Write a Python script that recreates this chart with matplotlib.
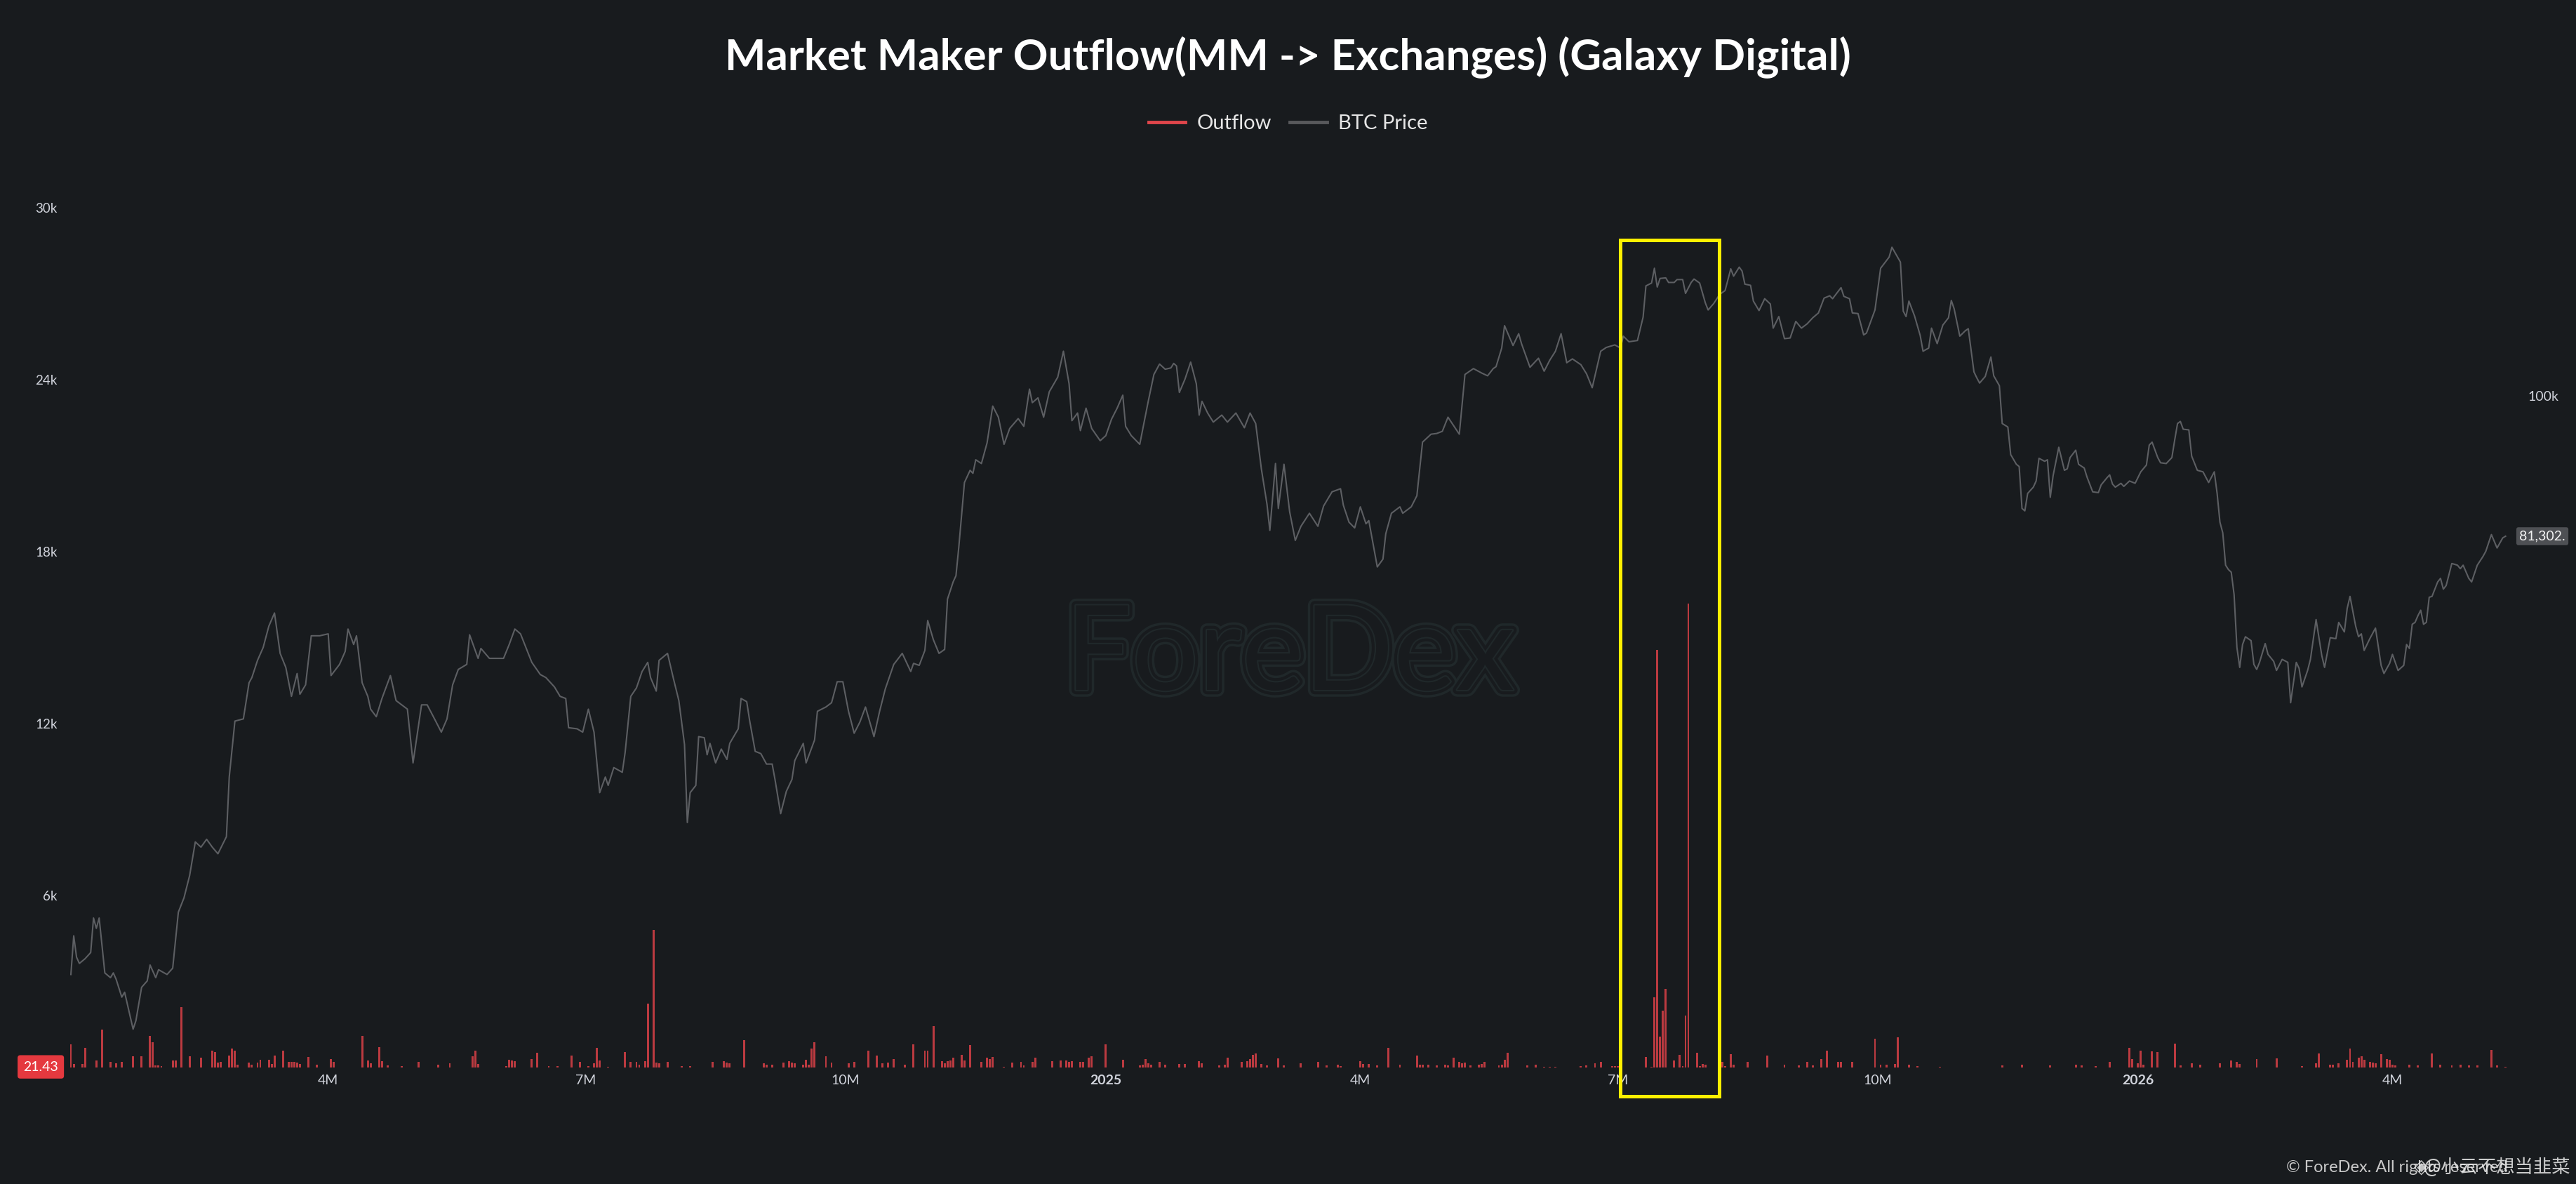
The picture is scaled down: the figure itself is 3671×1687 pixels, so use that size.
import matplotlib
matplotlib.use("Agg")
import matplotlib.pyplot as plt
import matplotlib.dates as mdates
import matplotlib.patheffects as pe
from matplotlib.lines import Line2D
from matplotlib.patches import Rectangle
from matplotlib.ticker import FixedLocator, FixedFormatter, NullLocator
import numpy as np
import pandas as pd

# ---- data ----
title = "Market Maker Outflow(MM -> Exchanges) (Galaxy Digital)"

price_dates = [
    "2024-01-01", "2024-01-02", "2024-01-03", "2024-01-04", "2024-01-06", "2024-01-08", "2024-01-09",
    "2024-01-10", "2024-01-11", "2024-01-13", "2024-01-15", "2024-01-16", "2024-01-17", "2024-01-19",
    "2024-01-20", "2024-01-23", "2024-01-24", "2024-01-26", "2024-01-28", "2024-01-29", "2024-01-31",
    "2024-02-01", "2024-02-04", "2024-02-06", "2024-02-08", "2024-02-10", "2024-02-12", "2024-02-14",
    "2024-02-16", "2024-02-18", "2024-02-20", "2024-02-22", "2024-02-25", "2024-02-26", "2024-02-28",
    "2024-03-02", "2024-03-04", "2024-03-05", "2024-03-07", "2024-03-09", "2024-03-11", "2024-03-13",
    "2024-03-15", "2024-03-17", "2024-03-19", "2024-03-21", "2024-03-22", "2024-03-24", "2024-03-26",
    "2024-03-29", "2024-04-01", "2024-04-02", "2024-04-05", "2024-04-07", "2024-04-08", "2024-04-10",
    "2024-04-11", "2024-04-13", "2024-04-15", "2024-04-16", "2024-04-18", "2024-04-20", "2024-04-23",
    "2024-04-25", "2024-04-29", "2024-05-01", "2024-05-04", "2024-05-06", "2024-05-09", "2024-05-11",
    "2024-05-13", "2024-05-15", "2024-05-17", "2024-05-20", "2024-05-21", "2024-05-24", "2024-05-25",
    "2024-05-28", "2024-06-02", "2024-06-04", "2024-06-06", "2024-06-08", "2024-06-12", "2024-06-15",
    "2024-06-17", "2024-06-20", "2024-06-22", "2024-06-24", "2024-06-25", "2024-06-28", "2024-06-30",
    "2024-07-02", "2024-07-04", "2024-07-06", "2024-07-08", "2024-07-09", "2024-07-11", "2024-07-14",
    "2024-07-15", "2024-07-17", "2024-07-19", "2024-07-21", "2024-07-23", "2024-07-24", "2024-07-26",
    "2024-07-27", "2024-07-30", "2024-08-01", "2024-08-03", "2024-08-05", "2024-08-06", "2024-08-07",
    "2024-08-09", "2024-08-10", "2024-08-12", "2024-08-13", "2024-08-14", "2024-08-16", "2024-08-18",
    "2024-08-20", "2024-08-21", "2024-08-24", "2024-08-25", "2024-08-27", "2024-08-28", "2024-08-30",
    "2024-09-01", "2024-09-03", "2024-09-05", "2024-09-06", "2024-09-08", "2024-09-10", "2024-09-12",
    "2024-09-13", "2024-09-16", "2024-09-17", "2024-09-20", "2024-09-21", "2024-09-24", "2024-09-26",
    "2024-09-28", "2024-09-30", "2024-10-02", "2024-10-04", "2024-10-06", "2024-10-08", "2024-10-11",
    "2024-10-13", "2024-10-15", "2024-10-18", "2024-10-21", "2024-10-24", "2024-10-25", "2024-10-27",
    "2024-10-29", "2024-10-30", "2024-11-01", "2024-11-03", "2024-11-05", "2024-11-06", "2024-11-08",
    "2024-11-09", "2024-11-10", "2024-11-12", "2024-11-14", "2024-11-15", "2024-11-16", "2024-11-18",
    "2024-11-20", "2024-11-22", "2024-11-24", "2024-11-26", "2024-11-28", "2024-12-01", "2024-12-03",
    "2024-12-05", "2024-12-06", "2024-12-08", "2024-12-10", "2024-12-12", "2024-12-15", "2024-12-17",
    "2024-12-19", "2024-12-20", "2024-12-22", "2024-12-23", "2024-12-25", "2024-12-27", "2024-12-30",
    "2025-01-01", "2025-01-03", "2025-01-05", "2025-01-07", "2025-01-08", "2025-01-10", "2025-01-13",
    "2025-01-16", "2025-01-18", "2025-01-20", "2025-01-22", "2025-01-24", "2025-01-25", "2025-01-26",
    "2025-01-27", "2025-01-29", "2025-01-31", "2025-02-02", "2025-02-03", "2025-02-04", "2025-02-06",
    "2025-02-08", "2025-02-11", "2025-02-13", "2025-02-16", "2025-02-19", "2025-02-21", "2025-02-23",
    "2025-02-25", "2025-02-27", "2025-02-28", "2025-03-02", "2025-03-03", "2025-03-05", "2025-03-07",
    "2025-03-09", "2025-03-11", "2025-03-14", "2025-03-17", "2025-03-19", "2025-03-22", "2025-03-25",
    "2025-03-26", "2025-03-28", "2025-03-30", "2025-04-01", "2025-04-03", "2025-04-04", "2025-04-07",
    "2025-04-09", "2025-04-10", "2025-04-12", "2025-04-15", "2025-04-16", "2025-04-19", "2025-04-21",
    "2025-04-23", "2025-04-26", "2025-04-28", "2025-04-30", "2025-05-02", "2025-05-06", "2025-05-08",
    "2025-05-11", "2025-05-14", "2025-05-16", "2025-05-18", "2025-05-19", "2025-05-21", "2025-05-22",
    "2025-05-25", "2025-05-27", "2025-05-28", "2025-05-31", "2025-06-03", "2025-06-05", "2025-06-07",
    "2025-06-09", "2025-06-11", "2025-06-13", "2025-06-15", "2025-06-18", "2025-06-20", "2025-06-22",
    "2025-06-25", "2025-06-27", "2025-06-30", "2025-07-02", "2025-07-03", "2025-07-05", "2025-07-08",
    "2025-07-10", "2025-07-11", "2025-07-13", "2025-07-14", "2025-07-15", "2025-07-16", "2025-07-18",
    "2025-07-19", "2025-07-21", "2025-07-22", "2025-07-24", "2025-07-25", "2025-07-27", "2025-07-28",
    "2025-07-30", "2025-08-01", "2025-08-02", "2025-08-04", "2025-08-06", "2025-08-08", "2025-08-10",
    "2025-08-11", "2025-08-13", "2025-08-14", "2025-08-15", "2025-08-17", "2025-08-18", "2025-08-20",
    "2025-08-22", "2025-08-24", "2025-08-25", "2025-08-27", "2025-08-29", "2025-08-31", "2025-09-02",
    "2025-09-04", "2025-09-06", "2025-09-08", "2025-09-10", "2025-09-12", "2025-09-14", "2025-09-15",
    "2025-09-18", "2025-09-19", "2025-09-21", "2025-09-22", "2025-09-24", "2025-09-26", "2025-09-27",
    "2025-09-30", "2025-10-02", "2025-10-05", "2025-10-06", "2025-10-08", "2025-10-09", "2025-10-10",
    "2025-10-11", "2025-10-12", "2025-10-14", "2025-10-16", "2025-10-17", "2025-10-19", "2025-10-20",
    "2025-10-22", "2025-10-24", "2025-10-26", "2025-10-27", "2025-10-28", "2025-10-30", "2025-11-01",
    "2025-11-02", "2025-11-04", "2025-11-05", "2025-11-06", "2025-11-08", "2025-11-10", "2025-11-11",
    "2025-11-13", "2025-11-14", "2025-11-16", "2025-11-17", "2025-11-19", "2025-11-20", "2025-11-21",
    "2025-11-22", "2025-11-23", "2025-11-25", "2025-11-26", "2025-11-27", "2025-11-29", "2025-11-30",
    "2025-12-01", "2025-12-02", "2025-12-04", "2025-12-06", "2025-12-07", "2025-12-08", "2025-12-10",
    "2025-12-11", "2025-12-13", "2025-12-14", "2025-12-16", "2025-12-18", "2025-12-19", "2025-12-21",
    "2025-12-22", "2025-12-23", "2025-12-24", "2025-12-26", "2025-12-27", "2025-12-29", "2025-12-31",
    "2026-01-02", "2026-01-04", "2026-01-05", "2026-01-06", "2026-01-08", "2026-01-09", "2026-01-11",
    "2026-01-13", "2026-01-14", "2026-01-15", "2026-01-16", "2026-01-17", "2026-01-19", "2026-01-20",
    "2026-01-22", "2026-01-24", "2026-01-26", "2026-01-28", "2026-01-29", "2026-01-30", "2026-01-31",
    "2026-02-01", "2026-02-02", "2026-02-03", "2026-02-04", "2026-02-05", "2026-02-06", "2026-02-07",
    "2026-02-08", "2026-02-10", "2026-02-11", "2026-02-12", "2026-02-13", "2026-02-15", "2026-02-16",
    "2026-02-18", "2026-02-19", "2026-02-21", "2026-02-23", "2026-02-24", "2026-02-26", "2026-02-27",
    "2026-02-28", "2026-03-02", "2026-03-03", "2026-03-05", "2026-03-07", "2026-03-08", "2026-03-10",
    "2026-03-12", "2026-03-13", "2026-03-15", "2026-03-16", "2026-03-17", "2026-03-19", "2026-03-20",
    "2026-03-21", "2026-03-22", "2026-03-24", "2026-03-26", "2026-03-28", "2026-03-29", "2026-03-31",
    "2026-04-01", "2026-04-03", "2026-04-05", "2026-04-06", "2026-04-07", "2026-04-08", "2026-04-09",
    "2026-04-10", "2026-04-11", "2026-04-12", "2026-04-13", "2026-04-14", "2026-04-15", "2026-04-17",
    "2026-04-18", "2026-04-19", "2026-04-20", "2026-04-22", "2026-04-24", "2026-04-25", "2026-04-26",
    "2026-04-28", "2026-04-29", "2026-05-01", "2026-05-03", "2026-05-04", "2026-05-06", "2026-05-08",
    "2026-05-10", "2026-05-11",
]
# BTC price in thousands of USD
price_k = [
    42.6, 45.1, 43.7, 43.3, 43.6, 44.0, 46.3,
    45.6, 46.3, 42.7, 42.4, 42.7, 42.3, 41.2,
    41.5, 39.3, 39.8, 41.8, 42.2, 43.2, 42.4,
    42.9, 42.6, 43.0, 46.7, 47.7, 49.3, 51.8,
    51.4, 52.0, 51.4, 50.9, 52.2, 57.0, 61.9,
    62.1, 65.5, 66.0, 67.7, 69.0, 71.2, 72.6,
    68.4, 67.0, 64.2, 66.4, 64.4, 65.3, 70.2,
    70.2, 70.4, 66.2, 67.3, 68.6, 70.9, 69.3,
    70.2, 65.5, 64.2, 63.0, 62.3, 64.0, 66.2,
    63.8, 63.0, 58.2, 63.4, 63.4, 61.9, 60.9,
    62.1, 65.3, 66.8, 67.3, 70.3, 67.9, 68.9,
    67.9, 67.9, 69.3, 70.9, 70.4, 67.5, 66.3,
    66.0, 65.1, 64.2, 64.0, 61.3, 61.2, 60.9,
    63.0, 60.9, 55.7, 57.0, 56.3, 57.8, 57.4,
    59.1, 64.2, 65.0, 66.6, 67.5, 66.0, 64.7,
    67.7, 68.4, 66.0, 63.8, 59.8, 53.3, 55.7,
    56.3, 60.5, 60.4, 58.9, 59.9, 58.2, 59.4,
    58.5, 59.9, 61.2, 64.0, 63.7, 62.0, 59.2,
    59.0, 58.1, 58.1, 56.8, 54.0, 55.8, 56.8,
    58.4, 59.9, 58.2, 60.2, 62.8, 63.2, 63.6,
    65.6, 65.6, 62.8, 60.8, 61.8, 63.2, 60.5,
    62.8, 64.9, 67.3, 68.4, 66.6, 67.4, 67.2,
    68.7, 71.8, 69.8, 68.4, 68.8, 74.1, 76.0,
    76.7, 80.0, 88.0, 89.6, 89.2, 91.0, 90.5,
    93.3, 98.5, 96.9, 93.1, 95.3, 96.7, 95.6,
    101.0, 99.0, 99.7, 96.9, 100.6, 102.8, 106.8,
    101.8, 96.4, 97.5, 95.0, 98.2, 95.3, 93.6,
    94.3, 96.6, 98.2, 100.1, 95.6, 94.3, 93.1,
    99.2, 103.2, 104.8, 104.0, 104.2, 104.9, 104.5,
    100.5, 102.5, 105.1, 101.8, 97.2, 99.2, 97.5,
    96.2, 97.2, 96.2, 97.5, 95.4, 97.5, 96.0,
    89.8, 85.2, 82.0, 90.5, 84.7, 90.4, 84.3,
    80.8, 82.5, 84.1, 82.5, 85.0, 86.8, 87.2,
    85.1, 83.0, 82.3, 84.9, 82.8, 83.2, 77.7,
    78.6, 81.6, 84.1, 84.9, 84.1, 84.9, 86.3,
    93.4, 94.5, 94.6, 94.9, 96.9, 94.5, 103.2,
    104.1, 103.4, 103.0, 104.1, 104.4, 107.3, 110.9,
    107.7, 109.6, 108.0, 104.3, 105.7, 103.7, 105.4,
    106.8, 109.6, 105.0, 105.6, 104.7, 103.3, 101.2,
    106.8, 107.4, 107.8, 107.3, 109.2, 108.3, 108.5,
    112.3, 117.6, 118.1, 120.7, 117.4, 118.9, 119.0,
    118.2, 118.2, 118.7, 118.7, 116.3, 118.2, 118.8,
    118.1, 114.7, 113.5, 114.6, 116.1, 116.8, 120.6,
    119.3, 120.9, 120.2, 117.9, 117.7, 115.0, 113.4,
    115.4, 114.5, 110.5, 112.4, 108.8, 108.9, 111.6,
    110.5, 111.2, 112.2, 113.0, 115.5, 115.9, 115.4,
    117.3, 115.8, 115.4, 113.0, 112.9, 109.4, 109.7,
    113.5, 120.7, 122.7, 124.5, 122.7, 121.8, 113.3,
    112.4, 115.0, 112.5, 109.3, 106.8, 107.3, 110.5,
    108.0, 111.0, 112.2, 115.1, 113.7, 109.2, 110.1,
    110.4, 103.6, 102.7, 101.9, 102.9, 105.9, 103.0,
    101.5, 96.0, 95.5, 91.7, 90.4, 90.1, 84.7,
    84.4, 86.6, 87.4, 88.2, 91.2, 90.8, 91.0,
    86.1, 88.9, 92.7, 89.6, 89.8, 91.3, 92.3,
    90.4, 89.9, 88.7, 86.8, 86.7, 87.7, 88.6,
    89.0, 87.8, 87.4, 87.9, 87.5, 88.2, 87.9,
    89.4, 90.3, 93.0, 93.4, 91.3, 90.6, 90.5,
    91.3, 93.7, 96.0, 96.3, 95.2, 95.1, 91.5,
    89.6, 89.4, 88.0, 89.4, 86.6, 83.0, 81.7,
    77.9, 77.4, 77.1, 74.6, 69.0, 67.0, 69.3,
    70.1, 69.7, 67.3, 66.8, 67.5, 69.4, 68.3,
    67.6, 66.7, 67.8, 67.5, 63.6, 67.5, 66.9,
    65.1, 66.7, 67.8, 71.9, 68.2, 67.0, 70.0,
    69.9, 71.6, 70.6, 73.1, 74.4, 71.2, 70.1,
    70.4, 68.7, 69.9, 71.0, 67.2, 66.4, 67.4,
    68.3, 66.7, 67.2, 69.3, 68.9, 71.4, 71.6,
    72.3, 72.9, 71.4, 71.6, 74.3, 74.4, 76.0,
    76.4, 75.2, 75.6, 78.1, 77.9, 77.5, 77.9,
    76.4, 76.0, 77.9, 78.9, 79.5, 81.5, 79.9,
    81.1, 81.302,
]

outflow_dates = [
    "2024-01-01", "2024-01-02", "2024-01-05", "2024-01-06", "2024-01-10", "2024-01-12", "2024-01-15",
    "2024-01-17", "2024-01-19", "2024-01-23", "2024-01-26", "2024-01-29", "2024-01-30", "2024-01-31",
    "2024-02-01", "2024-02-02", "2024-02-06", "2024-02-07", "2024-02-09", "2024-02-12", "2024-02-16",
    "2024-02-20", "2024-02-21", "2024-02-22", "2024-02-23", "2024-02-26", "2024-02-27", "2024-02-28",
    "2024-02-29", "2024-03-04", "2024-03-05", "2024-03-07", "2024-03-08", "2024-03-11", "2024-03-12",
    "2024-03-13", "2024-03-16", "2024-03-18", "2024-03-19", "2024-03-20", "2024-03-21", "2024-03-22",
    "2024-03-25", "2024-03-28", "2024-04-02", "2024-04-03", "2024-04-13", "2024-04-15", "2024-04-16",
    "2024-04-19", "2024-04-20", "2024-04-22", "2024-04-27", "2024-05-03", "2024-05-10", "2024-05-14",
    "2024-05-22", "2024-05-23", "2024-05-24", "2024-06-03", "2024-06-04", "2024-06-05", "2024-06-06",
    "2024-06-12", "2024-06-14", "2024-06-18", "2024-06-21", "2024-06-26", "2024-06-29", "2024-07-02",
    "2024-07-04", "2024-07-05", "2024-07-06", "2024-07-09", "2024-07-15", "2024-07-17", "2024-07-19",
    "2024-07-20", "2024-07-22", "2024-07-23", "2024-07-25", "2024-07-26", "2024-07-27", "2024-07-30",
    "2024-08-04", "2024-08-07", "2024-08-15", "2024-08-19", "2024-08-20", "2024-08-21", "2024-08-26",
    "2024-09-02", "2024-09-03", "2024-09-05", "2024-09-09", "2024-09-11", "2024-09-12", "2024-09-13",
    "2024-09-16", "2024-09-17", "2024-09-18", "2024-09-19", "2024-09-20", "2024-09-24", "2024-09-26",
    "2024-10-02", "2024-10-04", "2024-10-09", "2024-10-12", "2024-10-14", "2024-10-16", "2024-10-18",
    "2024-10-22", "2024-10-25", "2024-10-29", "2024-10-30", "2024-11-01", "2024-11-04", "2024-11-05",
    "2024-11-06", "2024-11-07", "2024-11-08", "2024-11-11", "2024-11-12", "2024-11-14", "2024-11-18",
    "2024-11-20", "2024-11-21", "2024-11-22", "2024-11-26", "2024-11-29", "2024-12-02", "2024-12-03",
    "2024-12-06", "2024-12-07", "2024-12-13", "2024-12-16", "2024-12-18", "2024-12-19", "2024-12-20",
    "2024-12-23", "2024-12-24", "2024-12-26", "2024-12-27", "2025-01-01", "2025-01-07", "2025-01-13",
    "2025-01-14", "2025-01-15", "2025-01-16", "2025-01-17", "2025-01-20", "2025-01-22", "2025-01-27",
    "2025-01-29", "2025-02-03", "2025-02-04", "2025-02-10", "2025-02-12", "2025-02-13", "2025-02-18",
    "2025-02-20", "2025-02-21", "2025-02-22", "2025-02-23", "2025-02-25", "2025-02-27", "2025-03-03",
    "2025-03-05", "2025-03-11", "2025-03-17", "2025-03-20", "2025-03-24", "2025-03-25", "2025-04-01",
    "2025-04-02", "2025-04-04", "2025-04-07", "2025-04-11", "2025-04-15", "2025-04-21", "2025-04-22",
    "2025-04-23", "2025-04-25", "2025-04-28", "2025-05-01", "2025-05-02", "2025-05-04", "2025-05-06",
    "2025-05-07", "2025-05-08", "2025-05-10", "2025-05-13", "2025-05-14", "2025-05-15", "2025-05-20",
    "2025-05-21", "2025-05-22", "2025-05-23", "2025-05-30", "2025-06-02", "2025-06-05", "2025-06-07",
    "2025-06-09", "2025-06-18", "2025-06-20", "2025-06-23", "2025-06-25", "2025-06-29", "2025-06-30",
    "2025-07-01", "2025-07-11", "2025-07-13", "2025-07-14", "2025-07-15", "2025-07-16", "2025-07-17",
    "2025-07-18", "2025-07-21", "2025-07-23", "2025-07-24", "2025-07-25", "2025-07-26", "2025-07-29",
    "2025-07-30", "2025-07-31", "2025-08-01", "2025-08-07", "2025-08-08", "2025-08-10", "2025-08-11",
    "2025-08-16", "2025-08-23", "2025-08-29", "2025-09-03", "2025-09-06", "2025-09-08", "2025-09-11",
    "2025-09-13", "2025-09-17", "2025-09-18", "2025-09-22", "2025-09-30", "2025-10-02", "2025-10-04",
    "2025-10-07", "2025-10-08", "2025-10-12", "2025-10-15", "2025-10-23", "2025-11-14", "2025-11-21",
    "2025-12-01", "2025-12-10", "2025-12-12", "2025-12-17", "2025-12-22", "2025-12-29", "2025-12-30",
    "2026-01-01", "2026-01-02", "2026-01-03", "2026-01-06", "2026-01-08", "2026-01-14", "2026-01-16",
    "2026-01-20", "2026-01-23", "2026-01-30", "2026-02-03", "2026-02-05", "2026-02-06", "2026-02-12",
    "2026-02-19", "2026-02-28", "2026-03-05", "2026-03-06", "2026-03-10", "2026-03-11", "2026-03-13",
    "2026-03-16", "2026-03-17", "2026-03-18", "2026-03-20", "2026-03-21", "2026-03-22", "2026-03-24",
    "2026-03-25", "2026-03-26", "2026-03-28", "2026-03-30", "2026-03-31", "2026-04-01", "2026-04-02",
    "2026-04-07", "2026-04-10", "2026-04-15", "2026-04-18", "2026-04-22", "2026-04-25", "2026-04-28",
    "2026-05-01", "2026-05-06", "2026-05-08", "2026-05-11",
]
outflow_values = [
    808, 114, 114, 685, 237, 1314, 196,
    139, 196, 384, 384, 1093, 889, 82,
    73, 57, 237, 237, 2097, 384, 343,
    588, 530, 180, 196, 424, 653, 588,
    98, 163, 98, 180, 261, 277, 114,
    408, 588, 204, 196, 196, 163, 114,
    367, 98, 302, 196, 1093, 245, 139,
    710, 220, 73, 40, 196, 98, 155,
    384, 588, 114, 57, 261, 245, 220,
    286, 506, 40, 40, 408, 196, 57,
    139, 694, 245, 30, 530, 196, 204,
    98, 220, 2220, 4800, 163, 139, 196,
    40, 40, 196, 220, 163, 155, 955,
    139, 98, 98, 180, 220, 163, 139,
    98, 277, 98, 669, 889, 400, 180,
    147, 188, 596, 408, 147, 163, 286,
    106, 799, 596, 596, 1453, 228, 147,
    212, 245, 351, 432, 245, 791, 188,
    351, 286, 367, 24, 163, 188, 65,
    188, 335, 220, 253, 253, 188, 220,
    188, 204, 335, 400, 816, 269, 65,
    90, 286, 147, 90, 188, 106, 122,
    122, 228, 147, 65, 90, 335, 204,
    228, 286, 432, 490, 122, 65, 326,
    65, 147, 188, 65, 90, 40, 228,
    122, 122, 65, 693, 90, 408, 90,
    90, 90, 65, 90, 65, 335, 188,
    147, 171, 65, 106, 122, 188, 65,
    90, 269, 514, 65, 106, 30, 30,
    30, 40, 65, 147, 188, 40, 50,
    40, 360, 30, 2440, 14580, 1070, 1990,
    2745, 250, 450, 40, 1820, 16180, 505,
    40, 130, 90, 190, 40, 470, 105,
    205, 410, 105, 65, 205, 65, 285,
    580, 205, 205, 205, 1000, 105, 105,
    120, 1060, 105, 40, 25, 65, 105,
    65, 105, 65, 40, 190, 680, 285,
    150, 580, 105, 570, 530, 840, 65,
    150, 105, 150, 245, 190, 120, 285,
    325, 40, 150, 490, 105, 105, 150,
    270, 650, 190, 350, 390, 270, 190,
    160, 150, 473, 285, 270, 105, 65,
    105, 65, 490, 105, 65, 105, 65,
    65, 610, 65, 21.43,
]

tick_dates = ["2024-04-01", "2024-07-01", "2024-10-01", "2025-01-01", "2025-04-01",
              "2025-07-01", "2025-10-01", "2026-01-01", "2026-04-01"]
tick_labels = ["4M", "7M", "10M", "2025", "4M", "7M", "10M", "2026", "4M"]
outflow_ticks = [6000, 12000, 18000, 24000, 30000]
outflow_tick_labels = ["6k", "12k", "18k", "24k", "30k"]
price_ticks = [100000]
price_tick_labels = ["100k"]
highlight_start, highlight_end = "2025-07-02", "2025-08-06"

# ---- style ----
W, H, DPI = 3671, 1687, 100
BG = "#181b1e"
BAR_RED = "#bb3a40"
LEG_RED = "#e0464b"
PRICE_GRAY = "#5d5f63"
TEXT = "#d1d4dc"
YELLOW = "#fff000"

plt.rcParams["font.family"] = ["Lato", "DejaVu Sans"]

px_d = pd.to_datetime(price_dates)
price = np.array(price_k) * 1000
of_d = pd.to_datetime(outflow_dates)
of_v = np.array(outflow_values, dtype=float)

fig = plt.figure(figsize=(W / DPI, H / DPI), dpi=DPI, facecolor=BG)

# plot area in pixels: left 97, right 3580, top 250, baseline 1521
left_px, right_px, top_px, base_px = 97, 3580, 250, 1521
ax = fig.add_axes([left_px / W, (H - base_px) / H, (right_px - left_px) / W, (base_px - top_px) / H])
ax.set_facecolor(BG)
ax2 = ax.twinx()
ax2.patch.set_visible(False)

ax.bar(of_d, of_v, width=0.72, color=BAR_RED, linewidth=0, zorder=2)
ax2.plot(px_d, price, color=PRICE_GRAY, lw=1.5, zorder=3)

ax.set_xlim(pd.Timestamp("2023-12-31"), pd.Timestamp("2026-05-13 08:00"))
ax.set_ylim(0, 31130)
ax2.set_yscale("log")
ax2.set_ylim(37140, 138400)

for a in (ax, ax2):
    for s in a.spines.values():
        s.set_visible(False)
    a.tick_params(length=0)

ax.yaxis.set_major_locator(FixedLocator(outflow_ticks))
ax.yaxis.set_major_formatter(FixedFormatter(outflow_tick_labels))
ax.tick_params(axis="y", colors=TEXT, labelsize=13.5, pad=11)

ax2.yaxis.set_major_locator(FixedLocator(price_ticks))
ax2.yaxis.set_major_formatter(FixedFormatter(price_tick_labels))
ax2.yaxis.set_minor_locator(NullLocator())
ax2.tick_params(axis="y", which="both", colors=TEXT, labelsize=14, pad=16)

ax.xaxis.set_major_locator(FixedLocator(mdates.date2num(pd.to_datetime(tick_dates))))
ax.xaxis.set_major_formatter(FixedFormatter(tick_labels))
ax.tick_params(axis="x", colors=TEXT, labelsize=14, pad=7)
for lab in ax.get_xticklabels():
    if len(lab.get_text()) == 4:
        lab.set_fontweight("bold")

# last-value markers on both axes
ax.annotate(f"{of_v[-1]:.2f}", xy=(0, of_v[-1]), xycoords=ax.get_yaxis_transform(),
            xytext=(-28, 0), textcoords="offset points", ha="center", va="center",
            fontsize=14, color="white", annotation_clip=False,
            bbox=dict(boxstyle="round,pad=0.42,rounding_size=0.2", fc="#e5393f", ec="none"))
ax2.annotate(f"{price[-1]:,.0f}.", xy=(1, price[-1]), xycoords=ax2.get_yaxis_transform(),
             xytext=(31, 0), textcoords="offset points", ha="center", va="center",
             fontsize=14, color="#f2f2f2", annotation_clip=False,
             bbox=dict(boxstyle="round,pad=0.22,rounding_size=0.15", fc="#4e5054", ec="none"))

# highlight box around the July 2025 spikes
x0 = mdates.date2num(pd.Timestamp(highlight_start))
x1 = mdates.date2num(pd.Timestamp(highlight_end))
ax2.add_patch(Rectangle((x0, -0.032), x1 - x0, 0.96, transform=ax2.get_xaxis_transform(),
                        fill=False, ec=YELLOW, lw=3.6, clip_on=False, zorder=5))

# watermark
line_c = "#20282a"
fig.text(1838 / W, 1 - 983 / H, "ForeDex", ha="center", va="baseline", fontsize=121,
         color=BG, zorder=0,
         path_effects=[pe.Stroke(linewidth=14, foreground=line_c),
                       pe.Stroke(linewidth=9, foreground=BG),
                       pe.Stroke(linewidth=3, foreground=line_c),
                       pe.Normal()])

fig.text(0.5, 1 - 82 / H, title, ha="center", va="center", fontsize=44.5,
         fontweight="bold", color="white")

handles = [Line2D([], [], color=LEG_RED, lw=3.5), Line2D([], [], color="#58595c", lw=3.5)]
fig.legend(handles, ["Outflow", "BTC Price"], loc="center", bbox_to_anchor=(0.5, 1 - 176 / H),
           ncol=2, frameon=False, fontsize=21, labelcolor="#e6e6e6",
           handlelength=1.8, handletextpad=0.55, columnspacing=0.9)

# footer: copyright with an overlapping repost watermark, as in the source image
fig.text(3258 / W, 1 - 1663 / H, "© ForeDex. All rights reserved", ha="left", va="center",
         fontsize=17, color="#c9c9c9")
fig.text(3451 / W, 1 - 1663 / H, "◈", ha="center", va="center", fontsize=20,
         color="#e0e0e0", alpha=0.85, family=["DejaVu Sans"])
fig.text(3663 / W, 1 - 1663 / H, "@小云不想当韭菜", ha="right", va="center", fontsize=19,
         color="#ececec", alpha=0.85, family=["Noto Sans CJK SC", "DejaVu Sans"])

fig.savefig("out.png", dpi=DPI, facecolor=BG)
